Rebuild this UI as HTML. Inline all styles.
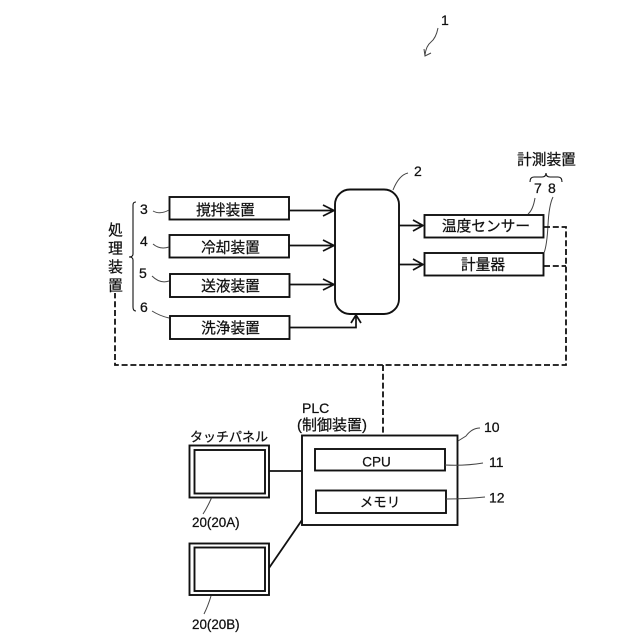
<!DOCTYPE html>
<html><head><meta charset="utf-8"><style>
html,body{margin:0;padding:0;background:#fff}
svg{display:block}
text{font-family:"Liberation Sans","Noto Sans CJK JP",sans-serif;fill:#111;stroke:#111;stroke-width:.25}
.b{fill:#fff;stroke:#111;stroke-width:1.9}
.l{fill:none;stroke:#111;stroke-width:1.7}
.d{fill:none;stroke:#111;stroke-width:1.8;stroke-dasharray:6 2.8}
.g{fill:none;stroke:#444;stroke-width:1}
.t{font-size:14.7px;text-anchor:middle}
.n{font-size:14px}
.s{font-size:13.5px;text-anchor:middle}
</style></head><body>
<svg width="640" height="640" viewBox="0 0 640 640" xmlns="http://www.w3.org/2000/svg">
<text x="441" y="25" class="n">1</text>
<path class="g" d="M438 28Q436 38 431 42T425 55"/><path class="g" d="M424 49L425 56L431 53"/>

<!-- left boxes -->
<rect class="b" x="169.500" y="197" width="119.500" height="22.500"/>
<rect class="b" x="169.500" y="235" width="119.500" height="22.500"/>
<rect class="b" x="170" y="274" width="119.500" height="23"/>
<rect class="b" x="170" y="316" width="119.500" height="23"/>
<text x="225.500" y="215" class="t">撹拌装置</text>
<text x="230.500" y="252.500" class="t">冷却装置</text>
<text x="230.500" y="291" class="t">送液装置</text>
<text x="230.500" y="333" class="t">洗浄装置</text>

<!-- numbers -->
<text x="140" y="214" class="n">3</text>
<text x="140" y="246" class="n">4</text>
<text x="139" y="278" class="n">5</text>
<text x="140" y="312" class="n">6</text>
<path class="g" d="M153 211Q160 215 169 210"/>
<path class="g" d="M153 244Q160 250 169 247"/>
<path class="g" d="M152 276Q160 284 169 281"/>
<path class="g" d="M152 311Q160 316 169 318"/>

<!-- brace -->
<path class="l" style="stroke-width:1.100" d="M136 202Q133 202 133 205V254Q133 257 129 257Q133 257 133 260V307Q133 311 136 311"/>
<text x="115.500" y="235" class="t">処</text>
<text x="115.500" y="253.500" class="t">理</text>
<text x="115.500" y="272" class="t">装</text>
<text x="115.500" y="290.500" class="t">置</text>

<!-- centre -->
<rect class="b" x="335" y="189.500" width="64" height="124.500" rx="15" ry="15"/>
<path class="l" d="M289 210.500H334M323 205L334 210.500L323 216"/>
<path class="l" d="M289 245.500H334M323 240L334 245.500L323 251"/>
<path class="l" d="M289 284.500H334M323 279L334 284.500L323 290"/>
<path class="l" d="M289 327.500H356V315M351 323L356 315L361 323"/>
<path class="l" d="M399 225.500H423M413 220L423 225.500L413 231"/>
<path class="l" d="M399 264.500H423M413 259L423 264.500L413 270"/>
<text x="414" y="176" class="n">2</text>
<path class="g" d="M408 173Q399 175 393 190"/>

<!-- right boxes -->
<rect class="b" x="424.500" y="215" width="119" height="22.500"/>
<rect class="b" x="424.500" y="253" width="119" height="22.500"/>
<text x="486" y="231" class="t">温度センサー</text>
<text x="483" y="269.500" class="t">計量器</text>
<text x="546.500" y="164.500" class="t">計測装置</text>
<text x="534" y="193" class="n">7</text>
<text x="548" y="193" class="n">8</text>
<path class="l" style="stroke-width:1.100" d="M530 182Q530 177 534 177H542Q546 177 546 173Q546 177 550 177H558Q562 177 562 182"/>
<path class="g" d="M535 198Q533 210 528 214"/>
<path class="g" d="M553 197Q549 205 548 225T544 253"/>

<!-- dashed -->
<path class="d" d="M544 227H566V365H115V293"/>
<path class="d" d="M544 266H566"/>
<path class="d" d="M383 365V435"/>

<!-- PLC -->
<text x="302" y="413" class="n">PLC</text>
<text x="297" y="430" style="font-size:15px">(制御装置)</text>
<rect class="b" x="302" y="435.500" width="155.500" height="89.500"/>
<rect class="b" x="315" y="449" width="130" height="21.500"/>
<rect class="b" x="316" y="490.500" width="130" height="22.500"/>
<text x="376.500" y="466.500" class="s">CPU</text>
<text x="380" y="507" class="s">メモリ</text>
<text x="484" y="432" class="n">10</text>
<text x="489" y="467" class="n">11</text>
<text x="489" y="502.500" class="n">12</text>
<path class="g" d="M480 428Q472 428 466 436L458 441"/>
<path class="g" d="M445 465Q465 466 483 463"/>
<path class="g" d="M446 499Q465 499 485 497"/>

<!-- panels -->
<text x="190" y="441.500" style="font-size:13px">タッチパネル</text>
<rect class="b" x="189.500" y="445.500" width="79.500" height="52"/>
<rect class="b" x="194.500" y="450" width="70.500" height="43.500"/>
<rect class="b" x="189.500" y="543.500" width="79.500" height="51.500"/>
<rect class="b" x="194.500" y="547.500" width="70.500" height="43.500"/>
<path class="l" d="M269 471H302"/>
<path class="l" style="stroke-width:1.800" d="M269 568L302 520"/>
<text x="192" y="527" style="font-size:13.400px">20(20A)</text>
<text x="192" y="629" style="font-size:13.400px">20(20B)</text>
<path class="g" d="M211.500 498Q207 508 203 514"/>
<path class="g" d="M211 596Q208 606 204 614"/>
</svg>
</body></html>
